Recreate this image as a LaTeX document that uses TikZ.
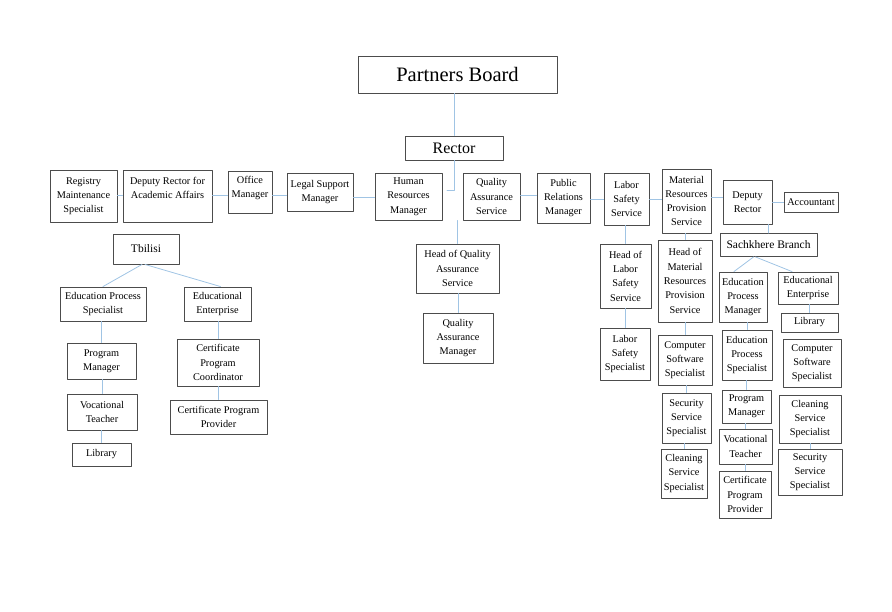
\documentclass[tikz,border=0pt]{standalone}
\usepackage{fontspec}
\setmainfont{Liberation Serif}
\usepackage{xcolor}
\usetikzlibrary{calc}

\definecolor{linkblue}{RGB}{160,196,228}

\begin{document}
\begin{tikzpicture}[x=1pt,y=-1pt,line cap=round,line join=round,
	box/.style={draw=black!70,line width=0.9pt,fill=white,align=center,inner sep=1pt,
		font=\fontsize{10.3}{14.3}\selectfont},
	sz/.style 2 args={minimum width=#1,minimum height=#2},
	branch/.style={box,font=\fontsize{11.5}{14}\selectfont},
	link/.style={draw=linkblue,line width=0.8pt}]
	
	\useasboundingbox (0,0) rectangle (892,612);
	
	% top
	\node[box,sz={199}{37},font=\fontsize{20.5}{22}\selectfont] (board) at (457.5,74.5) {Partners Board};
	\node[box,sz={98}{24},font=\fontsize{16}{18}\selectfont] (rector) at (454,148) {Rector};
	
	% main row
	\node[box,sz={67}{52}] (reg) at (83.5,196) {Registry\\Maintenance\\Specialist};
	\node[box,sz={89}{52},text depth=16pt] (dra) at (167.5,196) {Deputy Rector for\\Academic Affairs};
	\node[box,sz={44}{42},text depth=10pt] (office) at (250,192) {Office\\Manager};
	\node[box,sz={66}{38}] (legal) at (320,192) {Legal Support\\Manager};
	\node[box,sz={67}{47}] (hr) at (408.5,196.5) {Human\\Resources\\Manager};
	\node[box,sz={57}{47}] (qas) at (491.5,196.5) {Quality\\Assurance\\Service};
	\node[box,sz={53}{50}] (pr) at (563.5,198) {Public\\Relations\\Manager};
	\node[box,sz={45}{52}] (lss) at (626.5,199) {Labor\\Safety\\Service};
	\node[box,sz={49}{64}] (mrps) at (686.5,201) {Material\\Resources\\Provision\\Service};
	\node[box,sz={49}{44}] (dr) at (747.5,202) {Deputy\\Rector};
	\node[box,sz={54}{20}] (acc) at (811,202) {Accountant};
	
	% Tbilisi
	\node[branch,sz={66}{30}] (tbilisi) at (146,249) {Tbilisi};
	\node[box,sz={86}{34}] (epsT) at (103,304) {Education Process\\Specialist};
	\node[box,sz={67}{34}] (eeT) at (217.5,304) {Educational\\Enterprise};
	\node[box,sz={69}{36}] (pmT) at (101.5,361) {Program\\Manager};
	\node[box,sz={70}{36}] (vtT) at (102,412) {Vocational\\Teacher};
	\node[box,sz={59}{23}] (libT) at (101.5,454.5) {Library};
	\node[box,sz={82}{47}] (cpcT) at (218,362.5) {Certificate\\Program\\Coordinator};
	\node[box,sz={97}{34}] (cppT) at (218.5,417) {Certificate Program\\Provider};
	
	% quality assurance
	\node[box,sz={83}{49}] (hqas) at (457.5,268.5) {Head of Quality\\Assurance\\Service};
	\node[box,sz={70}{50}] (qam) at (458,338) {Quality\\Assurance\\Manager};
	
	% labor safety, material resources
	\node[box,sz={51}{64}] (hlss) at (625.5,276) {Head of\\Labor\\Safety\\Service};
	\node[box,sz={50}{52}] (lsspec) at (625,354) {Labor\\Safety\\Specialist};
	\node[box,sz={54}{82}] (hmrps) at (685,281) {Head of\\Material\\Resources\\Provision\\Service};
	\node[box,sz={54}{50}] (cssM) at (685,360) {Computer\\Software\\Specialist};
	\node[box,sz={49}{50}] (sssM) at (686.5,418) {Security\\Service\\Specialist};
	\node[box,sz={46}{49}] (clsM) at (684,473.5) {Cleaning\\Service\\Specialist};
	
	% Sachkhere
	\node[branch,sz={97}{23}] (sach) at (768.5,245) {Sachkhere Branch};
	\node[box,sz={48}{50}] (epmS) at (743,297) {Education\\Process\\Manager};
	\node[box,sz={60}{32}] (eeS) at (808,288) {Educational\\Enterprise};
	\node[box,sz={57}{19}] (libS) at (809.5,322.5) {Library};
	\node[box,sz={58}{48}] (cssS) at (812,363) {Computer\\Software\\Specialist};
	\node[box,sz={50}{50}] (epsS) at (747,355) {Education\\Process\\Specialist};
	\node[box,sz={49}{33}] (pmS) at (746.5,406.5) {Program\\Manager};
	\node[box,sz={53}{35}] (vtS) at (745.5,446.5) {Vocational\\Teacher};
	\node[box,sz={52}{47}] (cppS) at (745,494.5) {Certificate\\Program\\Provider};
	\node[box,sz={62}{48}] (clsS) at (810,419) {Cleaning\\Service\\Specialist};
	\node[box,sz={64}{46}] (sssS) at (810,472) {Security\\Service\\Specialist};
	
	% connectors
	\coordinate (rowjoin) at (447,190);
	\draw[link] (rector.north) -- (rector.north |- board.south);
	\draw[link] (rector.south) |- (rowjoin);
	
	\foreach \a/\b/\yy in {reg/dra/195, dra/office/195, office/legal/195, legal/hr/197,
		qas/pr/195, pr/lss/199, lss/mrps/199, mrps/dr/197, dr/acc/202}{
		\draw[link] (\a.east |- 0,\yy) -- (\b.west |- 0,\yy);
	}
	
	\foreach \a/\b in {epsT/pmT, pmT/vtT, vtT/libT, eeT/cpcT, cpcT/cppT, qas/hqas, hqas/qam,
		lss/hlss, hlss/lsspec, mrps/hmrps, hmrps/cssM, cssM/sssM, sssM/clsM, dr/sach,
		eeS/libS, epmS/epsS, epsS/pmS, pmS/vtS, vtS/cppS, clsS/sssS}{
		\draw[link] (\b.north) -- (\b.north |- \a.south);
	}
	
	\draw[link] ([xshift=-4pt]tbilisi.south) -- (epsT.north);
	\draw[link] ([xshift=-1pt]tbilisi.south) -- ([xshift=3pt]eeT.north);
	\draw[link] ([xshift=-15pt]sach.south) -- ([xshift=-9pt]epmS.north);
	\draw[link] ([xshift=-13pt]sach.south) -- ([xshift=-16pt]eeS.north);
	
\end{tikzpicture}
\end{document}
